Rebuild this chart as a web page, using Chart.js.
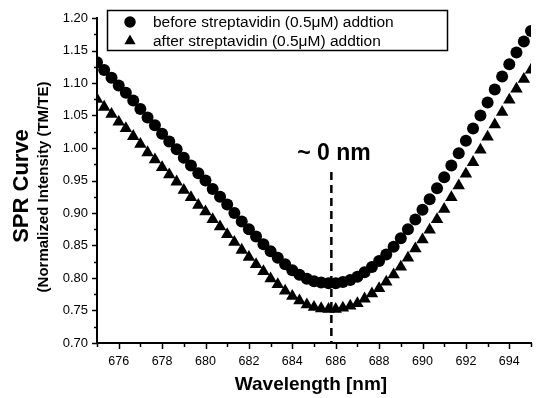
<!DOCTYPE html>
<html><head><meta charset="utf-8">
<script src="https://cdn.jsdelivr.net/npm/chart.js@4.4.1/dist/chart.umd.min.js"></script>
<style>html,body{margin:0;padding:0;background:#fff;}canvas{display:block;}</style>
</head><body>
<canvas id="c" width="542" height="398"></canvas>
<script>
const wavelength = [675.00,675.33,675.67,676.00,676.33,676.67,677.00,677.33,677.67,678.00,678.33,678.67,679.00,679.33,679.67,680.00,680.33,680.67,681.00,681.33,681.67,682.00,682.33,682.67,683.00,683.33,683.67,684.00,684.33,684.67,685.00,685.33,685.67,686.00,686.33,686.67,687.00,687.33,687.67,688.00,688.33,688.67,689.00,689.33,689.67,690.00,690.33,690.67,691.00,691.33,691.67,692.00,692.33,692.67,693.00,693.33,693.67,694.00,694.33,694.67,695.00];
const beforeVals = [1.132,1.120,1.108,1.096,1.085,1.073,1.060,1.047,1.035,1.022,1.010,0.998,0.985,0.973,0.961,0.950,0.937,0.925,0.913,0.900,0.887,0.875,0.864,0.852,0.841,0.831,0.821,0.812,0.805,0.799,0.795,0.793,0.792,0.792,0.794,0.797,0.802,0.809,0.817,0.826,0.836,0.848,0.861,0.875,0.890,0.905,0.921,0.938,0.955,0.973,0.992,1.011,1.030,1.050,1.070,1.090,1.110,1.129,1.147,1.164,1.180];
const afterVals = [1.075,1.063,1.052,1.040,1.030,1.018,1.006,0.993,0.982,0.970,0.959,0.948,0.935,0.924,0.912,0.902,0.890,0.879,0.867,0.855,0.843,0.832,0.821,0.810,0.799,0.790,0.780,0.772,0.765,0.759,0.755,0.753,0.752,0.752,0.754,0.757,0.761,0.768,0.776,0.784,0.794,0.805,0.817,0.831,0.845,0.859,0.874,0.890,0.906,0.924,0.942,0.960,0.978,0.997,1.017,1.036,1.055,1.074,1.091,1.106,1.120];
const seriesNames = ["before streptavidin (0.5\u03bcM) addtion", "after streptavidin (0.5\u03bcM) addtion"];
const xTickValues = [675,676,677,678,679,680,681,682,683,684,685,686,687,688,689,690,691,692,693,694,695];
const xTickLabels = ["","676","","678","","680","","682","","684","","686","","688","","690","","692","","694",""];
const yTickValues = [0.70,0.725,0.75,0.775,0.80,0.825,0.85,0.875,0.90,0.925,0.95,0.975,1.00,1.025,1.05,1.075,1.10,1.125,1.15,1.175,1.20];
const yTickLabels = ["0.70","","0.75","","0.80","","0.85","","0.90","","0.95","","1.00","","1.05","","1.10","","1.15","","1.20"];
const shiftMarker = 685.8;
const shiftText = "~ 0 nm";
const xTitle = "Wavelength [nm]";
const yTitle1 = "SPR Curve";
const yTitle2 = "(Normalized Intensity (TM/TE)";

const FONT = "'Liberation Sans', Arial, sans-serif";

const extras = {
  id: 'extras',
  afterDraw(chart) {
    const ctx = chart.ctx;
    const xs = chart.scales.x, ys = chart.scales.y;
    const area = chart.chartArea;
    ctx.save();
    ctx.strokeStyle = '#000';
    ctx.fillStyle = '#000';
    // tick marks
    ctx.lineWidth = 1.5;
    xTickValues.forEach((v, i) => {
      const px = Math.round(xs.getPixelForValue(v)) + 0.5;
      const len = xTickLabels[i] ? 6 : 4;
      ctx.beginPath(); ctx.moveTo(px, area.bottom); ctx.lineTo(px, area.bottom + len); ctx.stroke();
    });
    yTickValues.forEach((v, i) => {
      const py = Math.round(ys.getPixelForValue(v)) + 0.5;
      const len = yTickLabels[i] ? 5 : 3;
      ctx.beginPath(); ctx.moveTo(area.left, py); ctx.lineTo(area.left - len, py); ctx.stroke();
    });
    // dashed marker line
    const dx = xs.getPixelForValue(shiftMarker);
    ctx.lineWidth = 2.5;
    ctx.setLineDash([8, 5]);
    ctx.beginPath(); ctx.moveTo(dx, 172); ctx.lineTo(dx, area.bottom); ctx.stroke();
    ctx.setLineDash([]);
    // annotation text
    ctx.font = "bold 23px " + FONT;
    ctx.textAlign = 'center'; ctx.textBaseline = 'middle';
    ctx.fillText(shiftText, 334, 154);
    // x title
    ctx.font = "bold 19px " + FONT;
    ctx.fillText(xTitle, 311, 385);
    // y titles
    ctx.save();
    ctx.translate(22, 186); ctx.rotate(-Math.PI / 2);
    ctx.font = "bold 22px " + FONT;
    ctx.fillText(yTitle1, 0, 0);
    ctx.restore();
    ctx.save();
    ctx.translate(44, 187); ctx.rotate(-Math.PI / 2);
    ctx.font = "bold 15px " + FONT;
    ctx.fillText(yTitle2, 0, 0);
    ctx.restore();
    // legend
    ctx.fillStyle = '#fff';
    ctx.fillRect(107, 10, 340, 40);
    ctx.lineWidth = 1.5;
    ctx.strokeRect(107.5, 10.5, 340, 40);
    ctx.fillStyle = '#000';
    const styles = ['circle', 'triangle'];
    const ly = [22, 41];
    for (let i = 0; i < 2; i++) {
      Chart.helpers.drawPoint(ctx, {pointStyle: styles[i], radius: 5, borderWidth: 1, rotation: 0}, 130, ly[i]);
      ctx.fill();
      ctx.font = "15.5px " + FONT;
      ctx.textAlign = 'left';
      ctx.fillText(seriesNames[i], 153, ly[i] + 1);
    }
    ctx.restore();
  }
};

new Chart(document.getElementById('c'), {
  type: 'scatter',
  data: {
    datasets: [
      { label: seriesNames[0], data: wavelength.map((w, i) => ({x: w, y: beforeVals[i]})),
        pointStyle: 'circle', pointRadius: 6, backgroundColor: '#000', borderColor: '#000', borderWidth: 0, clip: 0 },
      { label: seriesNames[1], data: wavelength.map((w, i) => ({x: w, y: afterVals[i]})),
        pointStyle: 'triangle', pointRadius: 7.2, backgroundColor: '#000', borderColor: '#000', borderWidth: 0, clip: 0 }
    ]
  },
  options: {
    responsive: false,
    animation: false,
    events: [],
    layout: { padding: { left: 0, top: 18, right: 7, bottom: 0 } },
    plugins: { legend: { display: false }, tooltip: { enabled: false } },
    scales: {
      x: {
        type: 'linear', min: 675, max: 695,
        afterBuildTicks: s => { s.ticks = xTickValues.map(v => ({value: v})); },
        afterFit: s => { s.height = 55; },
        grid: { display: false, drawTicks: false },
        border: { display: true, color: '#000', width: 2 },
        ticks: { autoSkip: false, maxRotation: 0, padding: 11, color: '#000', font: { family: FONT, size: 12.5 },
          callback: (v, i) => xTickLabels[i] }
      },
      y: {
        type: 'linear', min: 0.70, max: 1.20,
        afterBuildTicks: s => { s.ticks = yTickValues.map(v => ({value: v})); },
        afterFit: s => { s.width = 97; },
        grid: { display: false, drawTicks: false },
        border: { display: true, color: '#000', width: 2 },
        ticks: { autoSkip: false, padding: 9, color: '#000', font: { family: FONT, size: 13 },
          callback: (v, i) => yTickLabels[i] }
      }
    }
  },
  plugins: [extras]
});
</script>
</body></html>
